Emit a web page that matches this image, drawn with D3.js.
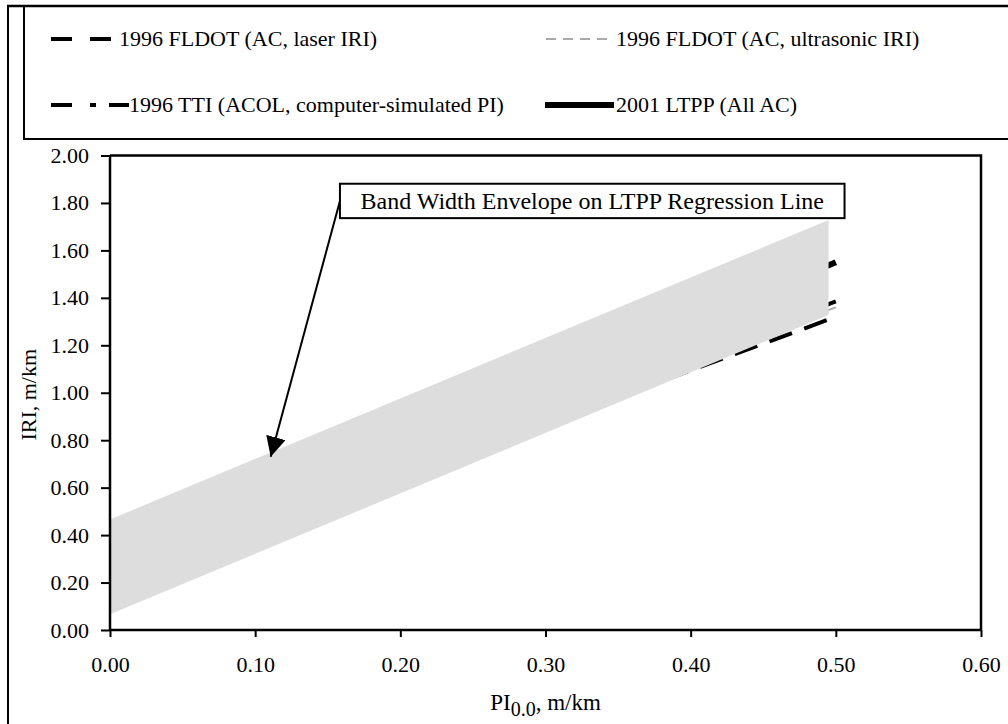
<!DOCTYPE html>
<html><head><meta charset="utf-8">
<script src="https://cdn.jsdelivr.net/npm/d3@7"></script>
<style>
body{margin:0;background:#fff}
svg{display:block}
text{font-family:"Liberation Serif","Times New Roman",serif;fill:#000}
</style>
</head><body>
<svg id="chart" width="1008" height="724"></svg>
<script>
// ---------------- data ----------------
const xTickValues = [0, 0.1, 0.2, 0.3, 0.4, 0.5, 0.6];
const yTickValues = [0, 0.2, 0.4, 0.6, 0.8, 1.0, 1.2, 1.4, 1.6, 1.8, 2.0];

// LTPP band-width envelope (PI, lower IRI, upper IRI)
const bandPI    = [0, 0.495];
const bandLower = [0.066, 1.328];
const bandUpper = [0.466, 1.728];

const seriesNames = [
  "1996 FLDOT (AC, laser IRI)",
  "1996 FLDOT (AC, ultrasonic IRI)",
  "1996 TTI (ACOL, computer-simulated PI)",
  "2001 LTPP (All AC)"
];
const fldotLaserPI  = [0, 0.5];
const fldotLaserIRI = [0.19, 1.32];
const fldotUltraPI  = [0, 0.5];
const fldotUltraIRI = [0.22, 1.36];
const ttiPI  = [0, 0.5];
const ttiIRI = [0.25, 1.385];
const ltppPI  = [0, 0.5];
const ltppIRI = [0.27, 1.55];

const annotationText = "Band Width Envelope on LTPP Regression Line";
const annotationBox  = {x0: 0.1584, x1: 0.506, y0: 1.736, y1: 1.881};
const arrowTip = {pi: 0.1107, iri: 0.73};

// ---------------- layout ----------------
const svg = d3.select("#chart");
const W = 1008, H = 724;
const plot = {left: 110, right: 981, top: 155.5, bottom: 630};
const x = d3.scaleLinear().domain([0, 0.6]).range([plot.left, plot.right]);
const y = d3.scaleLinear().domain([0, 2.0]).range([plot.bottom, plot.top]);
const FS = 22;

// outer frame + legend box
svg.append("line").attr("x1", 8).attr("x2", 8).attr("y1", 5).attr("y2", H)
  .attr("stroke", "#000").attr("stroke-width", 2);
svg.append("rect").attr("x", 24).attr("y", 6).attr("width", W + 10).attr("height", 133)
  .attr("fill", "none").attr("stroke", "#000").attr("stroke-width", 2);
svg.append("line").attr("x1", 7).attr("x2", W).attr("y1", 6).attr("y2", 6)
  .attr("stroke", "#000").attr("stroke-width", 2.5);

// ---------------- series ----------------
const styles = [
  {stroke: "#000", width: 4, dash: "24,13", legendDash: "21,18"},
  {stroke: "#aaa", width: 2, dash: "10,7", legendDash: "10,7"},
  {stroke: "#000", width: 4, dash: "21,12,6,12", legendDash: "21,18,6,13,21"},
  {stroke: "#000", width: 6, dash: null, legendDash: null}
];
const seriesData = [
  d3.zip(fldotLaserPI, fldotLaserIRI),
  d3.zip(fldotUltraPI, fldotUltraIRI),
  d3.zip(ttiPI, ttiIRI),
  d3.zip(ltppPI, ltppIRI)
];
const line = d3.line().x(d => x(d[0])).y(d => y(d[1]));
const clipId = "plotclip";
svg.append("clipPath").attr("id", clipId).append("rect")
  .attr("x", plot.left).attr("y", plot.top).attr("width", plot.right - plot.left).attr("height", plot.bottom - plot.top);
const gLines = svg.append("g").attr("clip-path", `url(#${clipId})`);
seriesData.forEach((d, i) => {
  gLines.append("path").datum(d).attr("d", line)
    .attr("fill", "none").attr("stroke", styles[i].stroke)
    .attr("stroke-width", styles[i].width)
    .attr("stroke-dasharray", styles[i].dash);
});

// band (opaque, on top of the lines)
const bandData = bandPI.map((p, i) => ({pi: p, lo: bandLower[i], hi: bandUpper[i]}));
svg.append("path").datum(bandData)
  .attr("d", d3.area().x(d => x(d.pi)).y0(d => y(d.lo)).y1(d => y(d.hi)))
  .attr("fill", "#dddddd");

// plot frame (top and right)
svg.append("path")
  .attr("d", `M${plot.left},${plot.top}H${plot.right}V${plot.bottom}`)
  .attr("fill", "none").attr("stroke", "#000").attr("stroke-width", 2.5);

// axes
const xAxis = d3.axisBottom(x).tickValues(xTickValues).tickFormat(d3.format(".2f"))
  .tickSize(7).tickPadding(19);
const gx = svg.append("g").attr("transform", `translate(0,${plot.bottom})`).call(xAxis);
const yAxis = d3.axisLeft(y).tickValues(yTickValues).tickFormat(d3.format(".2f"))
  .tickSize(9).tickPadding(12);
const gy = svg.append("g").attr("transform", `translate(${plot.left},0)`).call(yAxis);
[gx, gy].forEach(g => {
  g.select(".domain").attr("stroke", "#000").attr("stroke-width", 2.5);
  g.selectAll(".tick line").attr("stroke", "#000").attr("stroke-width", 2);
  g.selectAll(".tick text").style("font-family", '"Liberation Serif","Times New Roman",serif')
    .style("font-size", FS + "px").attr("fill", "#000");
});
gx.select(".domain").attr("d", `M${plot.left},0H${plot.right}`);
gy.select(".domain").attr("d", `M0,${plot.bottom}V${plot.top}`);

// axis titles
svg.append("text").attr("transform", `translate(36,${(plot.top + plot.bottom) / 2 + 2}) rotate(-90)`)
  .attr("text-anchor", "middle").style("font-size", "22px").text("IRI, m/km");
const xt = svg.append("text").attr("x", (plot.left + plot.right) / 2).attr("y", 710)
  .attr("text-anchor", "middle").style("font-size", "23px");
xt.append("tspan").text("PI");
xt.append("tspan").attr("dy", 6).style("font-size", "20px").text("0.0");
xt.append("tspan").attr("dy", -6).text(", m/km");

// annotation box + arrow
svg.append("defs").append("marker").attr("id", "arrowhead")
  .attr("viewBox", "0 0 20 20").attr("refX", 20).attr("refY", 10)
  .attr("markerWidth", 20).attr("markerHeight", 20).attr("markerUnits", "userSpaceOnUse")
  .attr("orient", "auto")
  .append("path").attr("d", "M0,0L20,10L0,20Z").attr("fill", "#000");
svg.append("line")
  .attr("x1", x(annotationBox.x0)).attr("y1", (y(annotationBox.y0) + y(annotationBox.y1)) / 2)
  .attr("x2", x(arrowTip.pi)).attr("y2", y(arrowTip.iri))
  .attr("stroke", "#000").attr("stroke-width", 2).attr("marker-end", "url(#arrowhead)");
svg.append("rect")
  .attr("x", x(annotationBox.x0)).attr("y", y(annotationBox.y1))
  .attr("width", x(annotationBox.x1) - x(annotationBox.x0))
  .attr("height", y(annotationBox.y0) - y(annotationBox.y1))
  .attr("fill", "#fff").attr("stroke", "#000").attr("stroke-width", 2);
svg.append("text")
  .attr("x", (x(annotationBox.x0) + x(annotationBox.x1)) / 2)
  .attr("y", (y(annotationBox.y0) + y(annotationBox.y1)) / 2 + 8)
  .attr("text-anchor", "middle").style("font-size", "24px").text(annotationText);

// legend
const legendItems = [
  {x0: 51, x1: 112, tx: 119, ty: 39},
  {x0: 546, x1: 611, tx: 616, ty: 39},
  {x0: 51, x1: 129, tx: 129, ty: 105},
  {x0: 545, x1: 614, tx: 616, ty: 105}
];
legendItems.forEach((p, i) => {
  svg.append("line").attr("x1", p.x0).attr("x2", p.x1).attr("y1", p.ty).attr("y2", p.ty)
    .attr("stroke", styles[i].stroke).attr("stroke-width", styles[i].width)
    .attr("stroke-dasharray", styles[i].legendDash);
  svg.append("text").attr("x", p.tx).attr("y", p.ty + 7).style("font-size", FS + "px")
    .text(seriesNames[i]);
});
</script>
</body></html>
